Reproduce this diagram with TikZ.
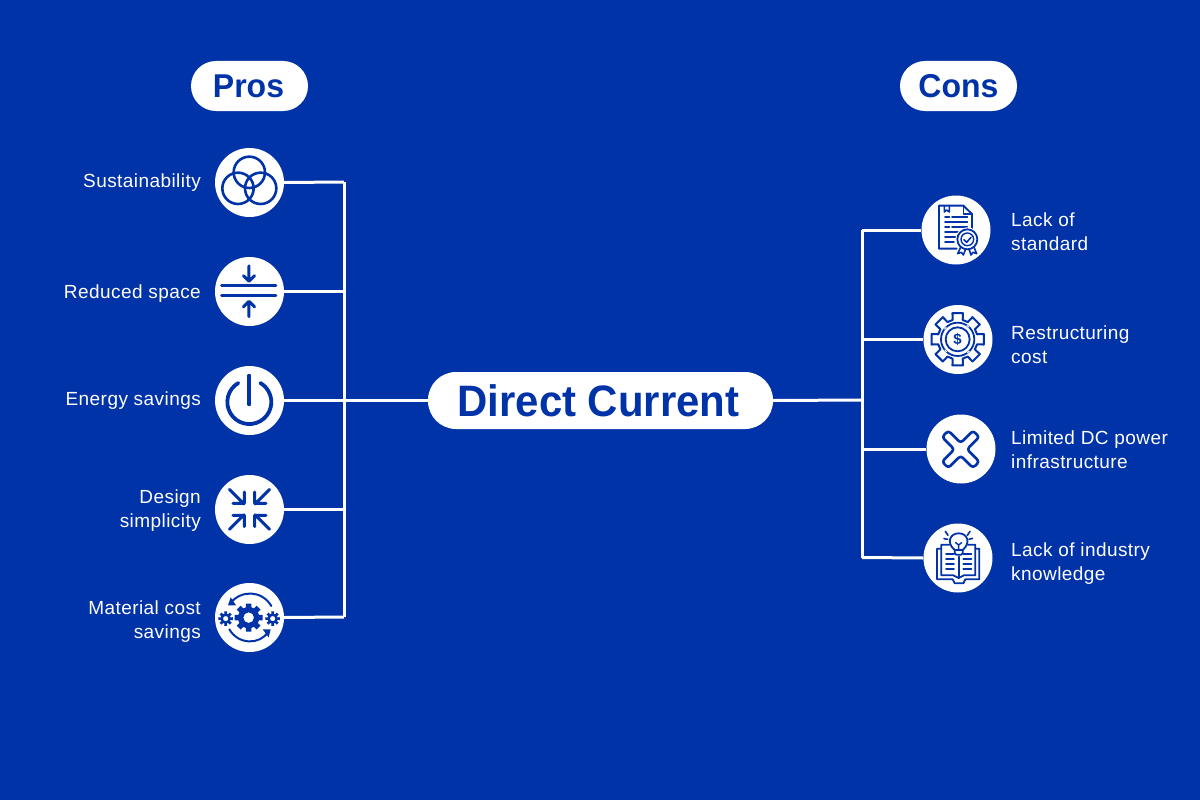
\documentclass[tikz,border=0pt]{standalone}
\usepackage{fontspec}
\setmainfont{Liberation Sans}
\newfontfamily\lblfont[LetterSpace=2.3]{Liberation Sans}
\definecolor{bluebg}{HTML}{0032A8}
\tikzset{
  pill/.style={fill=white,rounded corners=25pt,text=bluebg,font=\bfseries,inner sep=0pt,align=center},
  iconball/.style={circle,fill=white,minimum size=69pt,inner sep=0pt},
  wire/.style={draw=white,line width=3pt},
  lbl/.style={text=white,font=\lblfont\fontsize{19}{24}\selectfont,inner sep=0pt},
  ic/.style={draw=bluebg,line width=#1,line cap=round,line join=round},
  ic/.default=1.8pt,
  zoomed/.style 2 args={shift={(#1,#2)},x=.3333pt,y=-.3333pt}
}
\newcommand{\gearpath}[3]{%
  ({-90/#1}:#2) \foreach \gi in {1,...,#1}{
    -- ({(\gi-1)*360/#1+90/#1}:#2)
    -- ({(\gi-1)*360/#1+117/#1}:#3)
    -- ({(\gi-1)*360/#1+243/#1}:#3)
    -- ({\gi*360/#1-90/#1}:#2)
  } -- cycle}
\begin{document}
\begin{tikzpicture}[x=1pt,y=-1pt]
\useasboundingbox (0,0) rectangle (1200,800);
\fill[bluebg] (0,0) rectangle (1200,800);

% connector junctions
\coordinate (ltop) at (344,182);
\coordinate (lbot) at (344,617);
\coordinate (lmid) at (344,400.5);
\coordinate (rtop) at (862,230);
\coordinate (rbot) at (862,557.5);
\coordinate (rmid) at (862,400);

% icon discs
\node[iconball] (p1) at (249.5,182.5) {};
\node[iconball] (p2) at (249.5,291.5) {};
\node[iconball] (p3) at (249.5,400.5) {};
\node[iconball] (p4) at (249.5,509.5) {};
\node[iconball] (p5) at (249.5,617.5) {};
\node[iconball] (c1) at (956,230) {};
\node[iconball] (c2) at (958,339.5) {};
\node[iconball] (c3) at (961,449) {};
\node[iconball] (c4) at (958,558) {};

% centre and headings
\node[pill,minimum width=345pt,minimum height=57pt,rounded corners=28pt,font=\bfseries\fontsize{44}{50}\selectfont] (dc) at (600.5,400.5) {\hspace*{-4pt}\raisebox{-1pt}{\scalebox{.953}[1]{Direct Current}}};
\node[pill,minimum width=117pt,minimum height=50pt,font=\bfseries\fontsize{33}{38}\selectfont] (pros) at (249.5,86) {\hspace*{-2pt}\raisebox{-1pt}{\scalebox{.97}[1]{Pros}}};
\node[pill,minimum width=117pt,minimum height=50pt,font=\bfseries\fontsize{33}{38}\selectfont] (cons) at (958.5,86) {\raisebox{-1pt}{\scalebox{.97}[1]{Cons}}};

% connectors
\draw[wire,line cap=square] (ltop) -- (lbot);
\draw[wire,line cap=square] (rtop) -- (rbot);
\draw[wire] (p1.east) -- (ltop);
\draw[wire] (p2.east) -- (p2.east -| ltop);
\draw[wire] (p3.east) -- (lmid);
\draw[wire] (p4.east) -- (p4.east -| ltop);
\draw[wire] (p5.east) -- (lbot);
\draw[wire] (lmid) -- (dc.west);
\draw[wire] (dc.east) -- (rmid);
\draw[wire] (rtop) -- (c1.west);
\draw[wire] (c2.west -| rtop) -- (c2.west);
\draw[wire] (c3.west -| rtop) -- (c3.west);
\draw[wire] (rbot) -- (c4.west);

% labels
\node[lbl,anchor=east] (l1) at (201,183) {Sustainability};
\node[lbl,anchor=east] (l2) at (201,294) {Reduced space};
\node[lbl,anchor=east] (l3) at (201,401) {Energy savings};
\node[lbl,anchor=east,align=right] (l4) at (201,511) {Design\\simplicity};
\node[lbl,anchor=east,align=right] (l5) at (201,621.5) {Material cost\\savings};
\node[lbl,anchor=west,align=left] (r1) at (1011,231.5) {Lack of\\standard};
\node[lbl,anchor=west,align=left] (r2) at (1011,344.5) {Restructuring\\cost};
\node[lbl,anchor=west,align=left] (r3) at (1011,449.5) {Limited DC power\\infrastructure};
\node[lbl,anchor=west,align=left] (r4) at (1011,564) {Lack of industry\\knowledge};

% Venn icon
\begin{scope}[zoomed={200}{140}]
  \draw[ic=2.6pt] (148,97) circle (47);
  \draw[ic=2.6pt] (114,145) circle (47);
  \draw[ic=2.6pt] (182,145) circle (47);
\end{scope}

% Reduced space icon
\begin{scope}[zoomed={200}{140}]
  \draw[ic=3pt] (65,438) -- (228,438);
  \draw[ic=3pt] (65,468) -- (228,468);
  \draw[ic=3pt] (147,378) -- (147,422) (130,407) -- (147,424) -- (164,407);
  \draw[ic=3pt] (147,530) -- (147,486) (130,501) -- (147,484) -- (164,501);
\end{scope}

% Power icon
\begin{scope}[zoomed={200}{360}]
  \draw[ic=3.8pt] (115,69) arc[start angle=240,end angle=-60,radius=66];
  \draw[ic=3.8pt] (148,47) -- (148,133);
\end{scope}

% Design simplicity icon
\begin{scope}[zoomed={200}{360}]
  \draw[ic=3pt] (88,388) -- (132,432) (99,430) -- (133,430) -- (133,396);
  \draw[ic=3pt] (209,388) -- (165,432) (198,430) -- (164,430) -- (164,396);
  \draw[ic=3pt] (88,508) -- (132,464) (99,466) -- (133,466) -- (133,500);
  \draw[ic=3pt] (209,508) -- (165,464) (198,466) -- (164,466) -- (164,500);
\end{scope}

% Material cost icon
\begin{scope}[zoomed={200}{360}]
  \begin{scope}[shift={(146,773)}]
    \fill[bluebg,even odd rule] \gearpath{8}{43}{32} (0,0) circle (16);
  \end{scope}
  \begin{scope}[shift={(77,776)}]
    \fill[bluebg,even odd rule] \gearpath{8}{22}{15} (0,0) circle (8);
  \end{scope}
  \begin{scope}[shift={(218,776)}]
    \fill[bluebg,even odd rule] \gearpath{8}{22}{15} (0,0) circle (8);
  \end{scope}
  \draw[ic=2pt] (92,728) .. controls (125,690) and (185,690) .. (214,738);
  \fill[bluebg] (84,736) -- (108,736) -- (92,712) -- cycle;
  \draw[ic=2pt] (88,808) .. controls (115,855) and (180,855) .. (204,816);
  \fill[bluebg] (212,808) -- (188,808) -- (206,832) -- cycle;
\end{scope}

% Certificate icon
\begin{scope}[zoomed={910}{190}]
  \draw[ic=1.9pt] (140,176) -- (87,176) -- (87,47) -- (160,47) -- (186,72) -- (186,118);
  \draw[ic=1.6pt] (160,47) -- (160,72) -- (186,72);
  \draw[ic=1.6pt] (103,47) -- (103,66) -- (110,60) -- (118,66) -- (118,47);
  \draw[ic=1.7pt] (105,82) -- (118,82) (126,82) -- (172,82);
  \draw[ic=1.7pt] (105,97) -- (172,97);
  \draw[ic=1.7pt] (105,112) -- (118,112) (126,112) -- (172,112);
  \draw[ic=1.7pt] (105,127) -- (160,127);
  \draw[ic=1.7pt] (105,142) -- (136,142);
  \draw[ic=1.7pt] (105,157) -- (132,157);
  \fill[white] (172,148) circle (36);
  \draw[ic=1.8pt] (172,148) circle (30);
  \draw[ic=1.4pt] (172,148) circle (19);
  \draw[ic=1.6pt] (162,149) -- (170,157) -- (183,142);
  \draw[ic=1.6pt] (152,172) -- (143,191) -- (154,187) -- (160,195) -- (167,177);
  \draw[ic=1.6pt] (192,172) -- (200,191) -- (189,187) -- (183,195) -- (177,177);
\end{scope}

% Dollar gear icon
\begin{scope}[zoomed={910}{190}]
  \begin{scope}[shift={(143,448)}]
    \draw[ic=2pt] \gearpath{8}{80}{60};
    \draw[ic=1.8pt] (0,0) circle (36);
    \draw[draw=bluebg,line width=1.8pt] (0,0) circle (50);
    \draw[draw=white,line width=1pt,dash pattern=on 3pt off 22pt,dash phase=12pt] (0,0) circle (50);
  \end{scope}
  \node[text=bluebg,font=\bfseries\fontsize{15}{15}\selectfont,inner sep=0pt] (dollar) at (143,449) {\$};
\end{scope}

% Cross icon
\begin{scope}[zoomed={910}{410}]
  \draw[ic=2.6pt,rounded corners=3pt] (115,62) -- (152,99) -- (189,62) -- (208,81) -- (171,118) -- (208,155) -- (189,174) -- (152,137) -- (115,174) -- (96,155) -- (133,118) -- (96,81) -- cycle;
\end{scope}

% Book icon
\begin{scope}[zoomed={910}{410}]
  \draw[ic=1.8pt] (134,420) .. controls (108,398) and (120,370) .. (146,370) .. controls (172,370) and (184,398) .. (158,420) -- cycle;
  \draw[ic=1.8pt,rounded corners=1.5pt] (134,420) -- (134,434) -- (158,434) -- (158,420);
  \draw[ic=1.4pt] (146,420) -- (146,405) (137,398) -- (146,405) -- (155,398);
  \draw[ic=1.6pt] (106,364) -- (114,376) (172,376) -- (180,364) (102,386) -- (113,388) (177,388) -- (188,385);
  \draw[ic=1.8pt] (118,404) -- (94,404) -- (94,496) -- (130,496) -- (146,504) -- (162,496) -- (196,496) -- (196,404) -- (174,404);
  \draw[ic=1.8pt] (146,440) -- (146,504);
  \draw[ic=1.8pt] (94,416) -- (81,416) -- (81,508) -- (128,508) -- (134,520) -- (160,520) -- (166,508) -- (208,508) -- (208,416) -- (196,416);
  \draw[ic=1.8pt] (108,432) -- (132,432) (108,447) -- (132,447) (108,462) -- (132,462) (108,477) -- (132,477);
  \draw[ic=1.8pt] (160,432) -- (184,432) (160,447) -- (184,447) (160,462) -- (184,462) (160,477) -- (184,477);
\end{scope}
\end{tikzpicture}
\end{document}
